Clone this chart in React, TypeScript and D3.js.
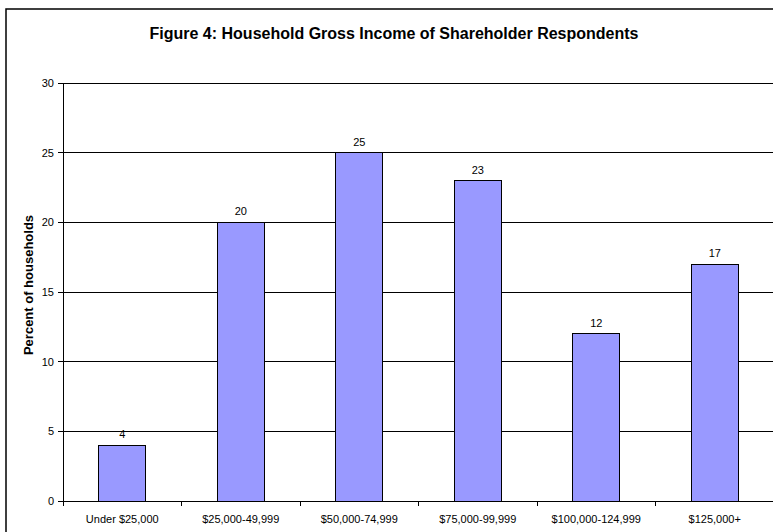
import { useEffect, useRef } from "react"
import * as d3 from "d3"

const categories = [
    "Under $25,000",
    "$25,000-49,999",
    "$50,000-74,999",
    "$75,000-99,999",
    "$100,000-124,999",
    "$125,000+",
]
const percents = [4, 20, 25, 23, 12, 17]
const yTicks = [0, 5, 10, 15, 20, 25, 30]

export default function App() {
    const svgRef = useRef(null)

    useEffect(() => {
        const width = 773
        const height = 532
        const margin = { top: 83, right: -1, bottom: 31, left: 63 }
        const font = "'Liberation Sans', Arial, sans-serif"

        const root = d3.select(svgRef.current)
        root.selectAll("*").remove()
        root.attr("width", width).attr("height", height)

        // outer chart border (cropped on right/bottom)
        root
            .append("rect")
            .attr("x", 6)
            .attr("y", 9)
            .attr("width", 800)
            .attr("height", 600)
            .attr("fill", "white")
            .attr("stroke", "black")
            .attr("stroke-width", 1.5)

        root
            .append("text")
            .attr("x", 394)
            .attr("y", 39)
            .attr("text-anchor", "middle")
            .style("font-family", font)
            .style("font-size", "16px")
            .style("font-weight", "bold")
            .text("Figure 4: Household Gross Income of Shareholder Respondents")

        const innerW = width - margin.left - margin.right
        const innerH = height - margin.top - margin.bottom

        const svg = root.append("g").attr("transform", `translate(${margin.left},${margin.top})`)

        const x = d3.scaleBand().domain(categories).range([0, innerW]).paddingInner(0.6).paddingOuter(0.3)
        const band = d3.scaleBand().domain(categories).range([0, innerW])
        const y = d3.scaleLinear().domain([0, 30]).range([innerH, 0])

        // gridlines
        svg
            .selectAll(".grid")
            .data(yTicks.filter((t) => t > 0))
            .enter()
            .append("line")
            .attr("x1", 0)
            .attr("x2", innerW)
            .attr("y1", (d) => y(d))
            .attr("y2", (d) => y(d))
            .attr("stroke", "black")
            .attr("stroke-width", 1)
            .attr("shape-rendering", "crispEdges")

        svg
            .selectAll(".bar")
            .data(percents)
            .enter()
            .append("rect")
            .attr("x", (d, i) => x(categories[i]))
            .attr("y", (d) => y(d))
            .attr("width", x.bandwidth())
            .attr("height", (d) => innerH - y(d))
            .attr("fill", "#9999FF")
            .attr("stroke", "black")
            .attr("stroke-width", 1)
            .attr("shape-rendering", "crispEdges")

        svg
            .selectAll(".val")
            .data(percents)
            .enter()
            .append("text")
            .attr("x", (d, i) => x(categories[i]) + x.bandwidth() / 2)
            .attr("y", (d) => y(d) - 7)
            .attr("text-anchor", "middle")
            .style("font-family", font)
            .style("font-size", "11px")
            .text((d) => d)

        // axes
        svg
            .append("line")
            .attr("x1", 0)
            .attr("x2", 0)
            .attr("y1", 0)
            .attr("y2", innerH)
            .attr("stroke", "black")
            .attr("shape-rendering", "crispEdges")
        svg
            .append("line")
            .attr("x1", 0)
            .attr("x2", innerW)
            .attr("y1", innerH)
            .attr("y2", innerH)
            .attr("stroke", "black")
            .attr("shape-rendering", "crispEdges")

        svg
            .selectAll(".ytick")
            .data(yTicks)
            .enter()
            .append("line")
            .attr("x1", -5)
            .attr("x2", 0)
            .attr("y1", (d) => y(d))
            .attr("y2", (d) => y(d))
            .attr("stroke", "black")
            .attr("shape-rendering", "crispEdges")

        svg
            .selectAll(".ylab")
            .data(yTicks)
            .enter()
            .append("text")
            .attr("x", -9)
            .attr("y", (d) => y(d))
            .attr("dy", "0.35em")
            .attr("text-anchor", "end")
            .style("font-family", font)
            .style("font-size", "11px")
            .text((d) => d)

        // x ticks between categories
        svg
            .selectAll(".xtick")
            .data(categories)
            .enter()
            .append("line")
            .attr("x1", (d) => band(d))
            .attr("x2", (d) => band(d))
            .attr("y1", innerH)
            .attr("y2", innerH + 5)
            .attr("stroke", "black")
            .attr("shape-rendering", "crispEdges")

        svg
            .selectAll(".xlab")
            .data(categories)
            .enter()
            .append("text")
            .attr("x", (d) => band(d) + band.bandwidth() / 2)
            .attr("y", innerH + 22)
            .attr("text-anchor", "middle")
            .style("font-family", font)
            .style("font-size", "11px")
            .text((d) => d)

        root
            .append("text")
            .attr("transform", `translate(33,${margin.top + innerH / 2 - 7}) rotate(-90)`)
            .attr("text-anchor", "middle")
            .style("font-family", font)
            .style("font-size", "13px")
            .style("font-weight", "bold")
            .text("Percent of households")
    }, [])

    return (
        <div style={{ position: "absolute", left: 0, top: 0 }}>
            <svg ref={svgRef} style={{ display: "block" }}></svg>
        </div>
    )
}
